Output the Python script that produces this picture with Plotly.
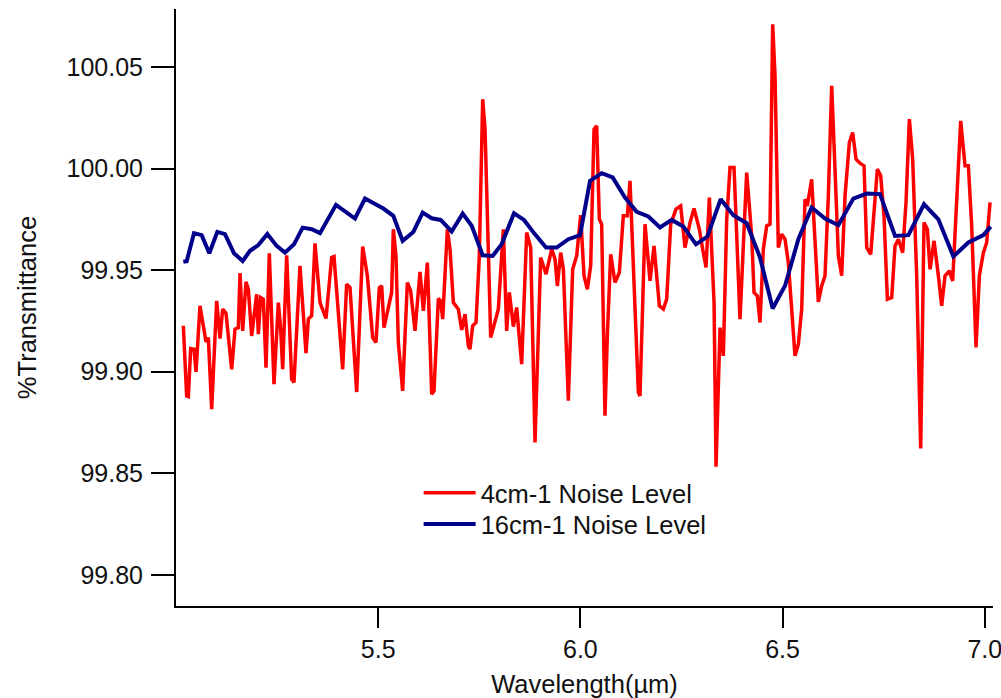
import plotly.graph_objects as go

# 4 cm-1 resolution trace (red)
red_wavelength = [
    5.0181, 5.0264, 5.0305, 5.0363, 5.0445, 5.0495, 5.0593, 5.0676, 5.0742, 5.0800,
    5.0882, 5.1006, 5.1088, 5.1154, 5.1236, 5.1377, 5.1459, 5.1541, 5.1583, 5.1649,
    5.1731, 5.1789, 5.1871, 5.1995, 5.2036, 5.2094, 5.2160, 5.2226, 5.2308, 5.2423,
    5.2531, 5.2588, 5.2638, 5.2737, 5.2860, 5.2918, 5.3066, 5.3215, 5.3273, 5.3355,
    5.3437, 5.3561, 5.3709, 5.3850, 5.3907, 5.4122, 5.4220, 5.4303, 5.4468, 5.4616,
    5.4732, 5.4864, 5.4946,
    5.5028, 5.5086, 5.5143, 5.5251, 5.5333, 5.5374, 5.5440, 5.5498, 5.5605, 5.5721,
    5.5803, 5.5910, 5.6034, 5.6117, 5.6216, 5.6323, 5.6380, 5.6488, 5.6545, 5.6595,
    5.6710, 5.6776, 5.6859, 5.6982, 5.7065, 5.7147, 5.7229, 5.7270, 5.7336, 5.7419,
    5.7501, 5.7584, 5.7642, 5.7782, 5.7971, 5.8095, 5.8177, 5.8243, 5.8342, 5.8424,
    5.8548, 5.8672, 5.8771, 5.8878, 5.9018, 5.9150, 5.9290, 5.9373, 5.9430, 5.9513,
    5.9579, 5.9702,
    5.9809, 5.9908, 6.0007, 6.0089, 6.0172, 6.0254, 6.0337, 6.0403, 6.0468, 6.0526,
    6.0608, 6.0666, 6.0749, 6.0856, 6.0963, 6.1062, 6.1161, 6.1227, 6.1326, 6.1433,
    6.1474, 6.1598, 6.1722, 6.1821, 6.1953, 6.2052, 6.2134, 6.2233, 6.2365, 6.2480,
    6.2587, 6.2711, 6.2810, 6.2942, 6.3024, 6.3107, 6.3189, 6.3305, 6.3354, 6.3453,
    6.3535, 6.3618, 6.3700, 6.3799, 6.3947, 6.4112, 6.4236, 6.4294, 6.4376, 6.4442,
    6.4524, 6.4607, 6.4689,
    6.4755, 6.4813, 6.4895, 6.4977, 6.5060, 6.5142, 6.5225, 6.5307, 6.5390, 6.5472,
    6.5554, 6.5612, 6.5719, 6.5802, 6.5884, 6.5967, 6.6049, 6.6131, 6.6214, 6.6296,
    6.6379, 6.6461, 6.6544, 6.6651, 6.6733, 6.6816, 6.6915, 6.7014, 6.7080, 6.7179,
    6.7261, 6.7344, 6.7426, 6.7508, 6.7591, 6.7698, 6.7780, 6.7863, 6.7970, 6.8052,
    6.8135, 6.8217, 6.8316, 6.8415, 6.8497, 6.8580, 6.8646, 6.8745, 6.8852, 6.8934,
    6.9017, 6.9124, 6.9206, 6.9305, 6.9404, 6.9511, 6.9594, 6.9676, 6.9783, 6.9866,
    6.9965, 7.0047, 7.0130,
]
red_transmittance = [
    99.9226, 99.8881, 99.8878, 99.9114, 99.9111, 99.8999, 99.9324, 99.9209, 99.9147, 99.9168,
    99.8816, 99.9349, 99.9163, 99.9308, 99.9288, 99.9012, 99.9209, 99.9217, 99.9485, 99.9201,
    99.9442, 99.9406, 99.9176, 99.9381, 99.9185, 99.9365, 99.9357, 99.9020, 99.9583, 99.8939,
    99.9340, 99.9209, 99.9012, 99.9573, 99.8963, 99.8947, 99.9521, 99.9091, 99.9259, 99.9275,
    99.9632, 99.9340, 99.9262, 99.9562, 99.9567, 99.9012, 99.9431, 99.9414, 99.8900, 99.9616,
    99.9472, 99.9168, 99.9144,
    99.9414, 99.9422, 99.9217, 99.9308, 99.9390, 99.9701, 99.9570, 99.9144, 99.8906, 99.9439,
    99.9398, 99.9201, 99.9491, 99.9300, 99.9537, 99.8889, 99.8906, 99.9360, 99.9348, 99.9259,
    99.9701, 99.9603, 99.9340, 99.9308, 99.9206, 99.9283, 99.9127, 99.9111, 99.9226, 99.9242,
    99.9570, 100.0341, 100.0193, 99.9168, 99.9308, 99.9701, 99.9201, 99.9390, 99.9222, 99.9316,
    99.9037, 99.9685, 99.9611, 99.8652, 99.9562, 99.9480, 99.9603, 99.9554, 99.9422, 99.9586,
    99.9504, 99.8857,
    99.9504, 99.9570, 99.9770, 99.9472, 99.9406, 99.9521, 100.0193, 100.0210, 99.9751, 99.9726,
    99.8783, 99.9176, 99.9578, 99.9439, 99.9488, 99.9767, 99.9767, 99.9939, 99.9439, 99.8898,
    99.8881, 99.9726, 99.9447, 99.9619, 99.9324, 99.9308, 99.9357, 99.9726, 99.9800, 99.9816,
    99.9611, 99.9734, 99.9803, 99.9701, 99.9603, 99.9513, 99.9857, 99.9340, 99.8533, 99.9217,
    99.9078, 99.9751, 100.0005, 100.0005, 99.9259, 99.9980, 99.9668, 99.9390, 99.9373, 99.9242,
    99.9603, 99.9718, 99.9726,
    100.0710, 100.0456, 99.9611, 99.9677, 99.9652, 99.9537, 99.9308, 99.9078, 99.9135, 99.9308,
    99.9849, 99.9816, 99.9947, 99.9636, 99.9344, 99.9422, 99.9472, 99.9865, 100.0407, 99.9997,
    99.9570, 99.9472, 99.9865, 100.0128, 100.0177, 100.0046, 100.0026, 100.0013, 99.9611, 99.9578,
    99.9800, 99.9997, 99.9964, 99.9767, 99.9357, 99.9365, 99.9619, 99.9652, 99.9586, 99.9833,
    100.0243, 100.0046, 99.9472, 99.8622, 99.9734, 99.9701, 99.9504, 99.9644, 99.9472, 99.9324,
    99.9472, 99.9496, 99.9447, 99.9833, 100.0234, 100.0013, 100.0013, 99.9718, 99.9119, 99.9472,
    99.9586, 99.9636, 99.9833,
]

# 16 cm-1 resolution trace (blue)
blue_wavelength = [
    5.0181, 5.0264, 5.0445, 5.0635, 5.0824, 5.1022, 5.1212, 5.1434, 5.1649, 5.1830,
    5.2036, 5.2259, 5.2489, 5.2695, 5.2918, 5.3132, 5.3355, 5.3561, 5.3957, 5.4426,
    5.4674, 5.5127, 5.5374, 5.5605, 5.5869, 5.6100, 5.6322, 5.6545, 5.6817, 5.7089,
    5.7312, 5.7584, 5.7831, 5.8053, 5.8358, 5.8606, 5.8853, 5.9150, 5.9413, 5.9702,
    5.9991, 6.0238, 6.0526, 6.0798, 6.1103, 6.1392, 6.1680, 6.1969, 6.2257, 6.2546,
    6.2859, 6.3139, 6.3469, 6.3782, 6.4112, 6.4442, 6.4755, 6.5060, 6.5390, 6.5719,
    6.6049, 6.6379, 6.6750, 6.7080, 6.7409, 6.7780, 6.8110, 6.8497, 6.8852, 6.9223,
    6.9594, 6.9965, 7.0146,
]
blue_transmittance = [
    99.9541, 99.9544, 99.9682, 99.9672, 99.9583, 99.9688, 99.9677, 99.9583, 99.9545, 99.9595,
    99.9623, 99.9678, 99.9619, 99.9586, 99.9627, 99.9709, 99.9701, 99.9682, 99.9821, 99.9754,
    99.9852, 99.9803, 99.9767, 99.9644, 99.9688, 99.9783, 99.9755, 99.9747, 99.9690, 99.9778,
    99.9718, 99.9573, 99.9570, 99.9627, 99.9780, 99.9747, 99.9682, 99.9611, 99.9611, 99.9652,
    99.9672, 99.9939, 99.9977, 99.9956, 99.9857, 99.9787, 99.9764, 99.9710, 99.9747, 99.9714,
    99.9627, 99.9665, 99.9849, 99.9770, 99.9731, 99.9562, 99.9311, 99.9423, 99.9652, 99.9808,
    99.9754, 99.9721, 99.9852, 99.9877, 99.9874, 99.9668, 99.9672, 99.9824, 99.9750, 99.9567,
    99.9636, 99.9672, 99.9714,
]

x_ticks = [5.5, 6.0, 6.5, 7.0]
x_tick_labels = ["5.5", "6.0", "6.5", "7.0"]
y_ticks = [99.80, 99.85, 99.90, 99.95, 100.00, 100.05]
y_tick_labels = ["99.80", "99.85", "99.90", "99.95", "100.00", "100.05"]

FONT = "Liberation Sans, Arial, sans-serif"
TXT = "#111111"

fig = go.Figure()
fig.add_trace(go.Scatter(
    x=red_wavelength, y=red_transmittance, mode="lines",
    name="4cm-1 Noise Level", legend="legend",
    line=dict(color="#FF0000", width=3.5),
))
fig.add_trace(go.Scatter(
    x=blue_wavelength, y=blue_transmittance, mode="lines",
    name="16cm-1 Noise Level", legend="legend2",
    line=dict(color="#00008B", width=4),
))

legend_common = dict(
    xanchor="left", yanchor="top",
    bgcolor="rgba(0,0,0,0)", borderwidth=0,
    font=dict(family=FONT, size=25.5, color=TXT),
    itemwidth=52,
)

fig.update_layout(
    width=1001, height=698,
    margin=dict(l=176, r=8, t=9, b=92, autoexpand=False),
    paper_bgcolor="white", plot_bgcolor="white",
    font=dict(family=FONT, size=25, color=TXT),
    showlegend=True,
    legend=dict(x=0.297, y=0.2285, **legend_common),
    legend2=dict(x=0.297, y=0.176, **legend_common),
    xaxis=dict(
        range=[5.0, 7.0203],
        automargin=False,
        tickmode="array", tickvals=x_ticks, ticktext=x_tick_labels,
        ticks="outside", ticklen=20, tickwidth=2, tickcolor="black",
        ticklabeloverflow="allow",
        showline=True, linecolor="black", linewidth=2,
        showgrid=False, zeroline=False,
        title=dict(text="Wavelength(µm)", standoff=17,
                   font=dict(family=FONT, size=25.5, color=TXT)),
        tickfont=dict(family=FONT, size=25, color=TXT),
    ),
    yaxis=dict(
        range=[99.7847, 100.0785],
        automargin=False,
        tickmode="array", tickvals=y_ticks, ticktext=y_tick_labels,
        ticks="outside", ticklen=23, tickwidth=2, tickcolor="black",
        ticklabelstandoff=3,
        showline=True, linecolor="black", linewidth=2,
        showgrid=False, zeroline=False,
        title=dict(text="%Transmittance", standoff=23,
                   font=dict(family=FONT, size=25.5, color=TXT)),
        tickfont=dict(family=FONT, size=25, color=TXT),
    ),
)

fig.write_html("out.html", config={"displayModeBar": False},
               post_script="document.body.style.margin='0px';")
